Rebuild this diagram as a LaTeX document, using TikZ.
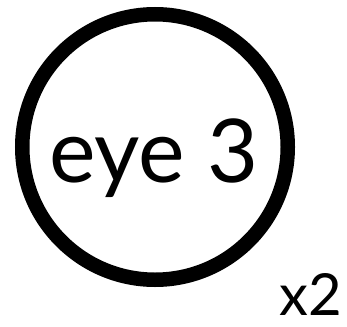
\documentclass[tikz,border=0pt]{standalone}
\usepackage{fontspec}
\setmainfont{Lato}
\begin{document}
\begin{tikzpicture}[x=1pt,y=-1pt,
  ring/.style={draw=black,line width=14.5pt,circle,minimum size=265.5pt,inner sep=0pt},
  bigtext/.style={font=\fontsize{88}{92}\selectfont,anchor=base,inner sep=0pt},
  multtext/.style={font=\fontsize{58}{62}\selectfont,anchor=base,inner sep=0pt}]
\useasboundingbox (0,0) rectangle (347,326);
\node[ring] (eye) at (155,147) {};
\node[bigtext] (label) at (154,182) {eye 3};
\node[multtext] (mult) at (311,315) {x2};
\end{tikzpicture}
\end{document}
